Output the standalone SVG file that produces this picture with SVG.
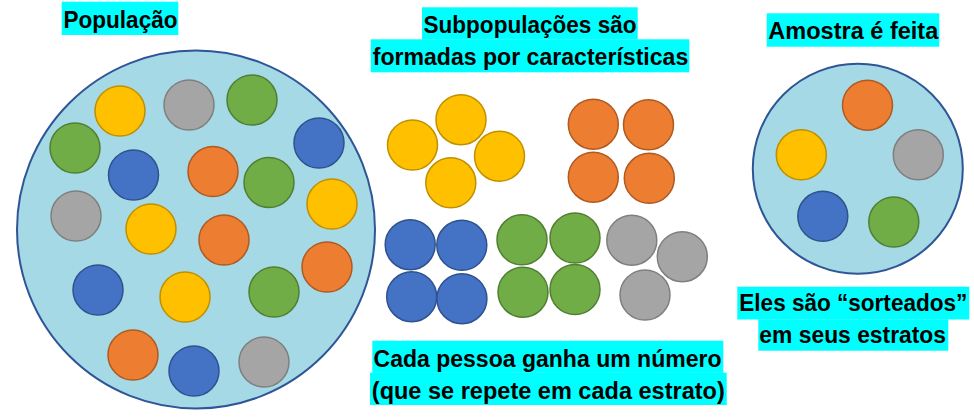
<svg xmlns="http://www.w3.org/2000/svg" width="974" height="418" viewBox="0 0 974 418">
<style>
.big{fill:#A5D9E5;stroke:#2F5597;stroke-width:2}
.y{fill:#FFC000;stroke:#BF9000;stroke-width:1.5}
.g{fill:#A5A5A5;stroke:#7F7F7F;stroke-width:1.5}
.gr{fill:#70AD47;stroke:#507E32;stroke-width:1.5}
.b{fill:#4472C4;stroke:#2F528F;stroke-width:1.5}
.o{fill:#ED7D31;stroke:#AE5A21;stroke-width:1.5}
.hl{fill:#00FFFF}
text{font-family:"Liberation Sans",Arial,sans-serif;font-weight:bold;font-size:23px;fill:#000;text-anchor:middle}
</style>
<rect width="974" height="418" fill="#fff"/>
<g id="populacao">
<circle class="big" cx="196" cy="229.5" r="179"/>
<circle class="y" cx="120" cy="111" r="25"/>
<circle class="g" cx="189" cy="105" r="25"/>
<circle class="gr" cx="252" cy="100" r="25"/>
<circle class="gr" cx="75" cy="148" r="25"/>
<circle class="b" cx="133.5" cy="175" r="25"/>
<circle class="o" cx="213" cy="171.5" r="25"/>
<circle class="gr" cx="269" cy="182.5" r="25"/>
<circle class="b" cx="319" cy="143" r="25"/>
<circle class="g" cx="76" cy="216" r="25"/>
<circle class="y" cx="151" cy="229" r="25"/>
<circle class="o" cx="224" cy="240" r="25"/>
<circle class="y" cx="332" cy="204" r="25"/>
<circle class="b" cx="98" cy="290" r="25"/>
<circle class="y" cx="185" cy="297" r="25"/>
<circle class="gr" cx="274" cy="292" r="25"/>
<circle class="o" cx="327" cy="267" r="25"/>
<circle class="o" cx="133" cy="355" r="25"/>
<circle class="b" cx="194" cy="371" r="25"/>
<circle class="g" cx="264" cy="362" r="25"/>
</g>
<g id="subpop-amarelo">
<circle class="y" cx="412.5" cy="145" r="25"/>
<circle class="y" cx="461" cy="119.7" r="25"/>
<circle class="y" cx="499.5" cy="156.2" r="25"/>
<circle class="y" cx="450.8" cy="182.8" r="25"/>
</g>
<g id="subpop-laranja">
<circle class="o" cx="593.3" cy="124.2" r="25"/>
<circle class="o" cx="648.5" cy="124.8" r="25"/>
<circle class="o" cx="593.3" cy="177.2" r="25"/>
<circle class="o" cx="649.3" cy="178.3" r="25"/>
</g>
<g id="subpop-azul">
<circle class="b" cx="410.2" cy="244.7" r="25"/>
<circle class="b" cx="461.8" cy="245.3" r="25"/>
<circle class="b" cx="411.7" cy="296.7" r="25"/>
<circle class="b" cx="461.9" cy="298.7" r="25"/>
</g>
<g id="subpop-verde">
<circle class="gr" cx="522" cy="239.8" r="25"/>
<circle class="gr" cx="575" cy="238" r="25"/>
<circle class="gr" cx="523" cy="292.2" r="25"/>
<circle class="gr" cx="575" cy="289.5" r="25"/>
</g>
<g id="subpop-cinza">
<circle class="g" cx="631.8" cy="240.2" r="25"/>
<circle class="g" cx="682.3" cy="256.7" r="25"/>
<circle class="g" cx="645" cy="295" r="25"/>
</g>
<g id="amostra">
<circle class="big" cx="857.8" cy="168.8" r="105"/>
<circle class="o" cx="867.5" cy="105.2" r="25"/>
<circle class="y" cx="801.3" cy="154.8" r="25"/>
<circle class="g" cx="918.3" cy="154.8" r="25"/>
<circle class="b" cx="822.8" cy="216.3" r="25"/>
<circle class="gr" cx="893.8" cy="222" r="25"/>
</g>
<g id="labels">
<rect class="hl" x="61.7" y="1.7" width="116.6" height="33.3"/>
<text x="120.5" y="27.7" textLength="114" lengthAdjust="spacingAndGlyphs">População</text>
<rect class="hl" x="422" y="7.3" width="215.7" height="32.2"/>
<rect class="hl" x="370.7" y="39.3" width="318.6" height="33"/>
<text x="530" y="33.3" textLength="213" lengthAdjust="spacingAndGlyphs">Subpopulações são</text>
<text x="530.5" y="65" textLength="315.5" lengthAdjust="spacingAndGlyphs">formadas por características</text>
<rect class="hl" x="766.7" y="13.3" width="172.6" height="33.4"/>
<text x="853.3" y="39.3" textLength="170" lengthAdjust="spacingAndGlyphs">Amostra é feita</text>
<rect class="hl" x="737.3" y="286.7" width="232" height="32.8"/>
<rect class="hl" x="758.3" y="319.3" width="190" height="31.4"/>
<text x="853.3" y="310.7" textLength="228" lengthAdjust="spacingAndGlyphs">Eles são “sorteados”</text>
<text x="852.7" y="342.7" textLength="186.7" lengthAdjust="spacingAndGlyphs">em seus estratos</text>
<rect class="hl" x="372.3" y="340.7" width="351" height="32.2"/>
<rect class="hl" x="370" y="372.7" width="356.7" height="32.3"/>
<text x="547.5" y="367.3" textLength="348" lengthAdjust="spacingAndGlyphs">Cada pessoa ganha um número</text>
<text x="548.3" y="399" textLength="353" lengthAdjust="spacingAndGlyphs">(que se repete em cada estrato)</text>
</g>
</svg>
